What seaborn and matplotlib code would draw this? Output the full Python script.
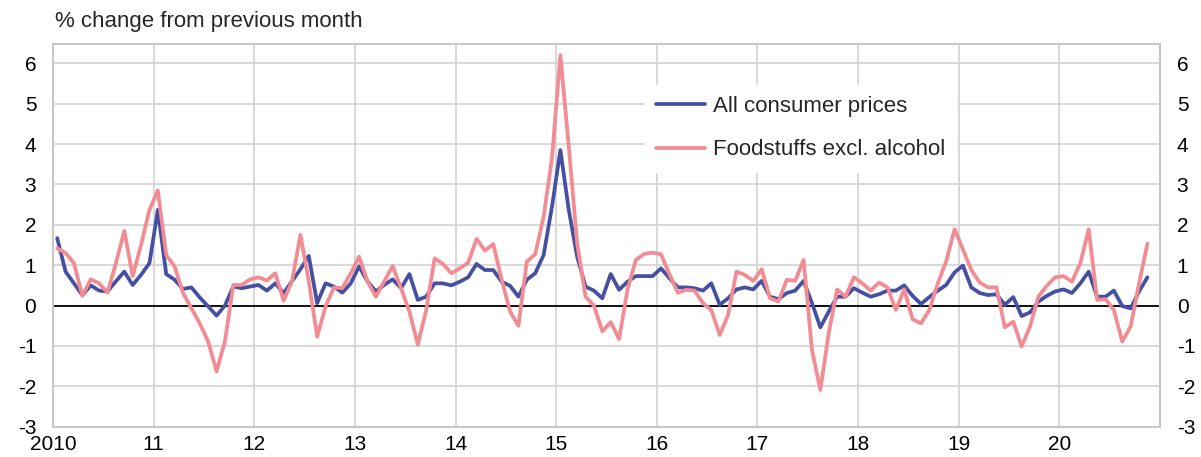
import numpy as np
import pandas as pd
import matplotlib
matplotlib.use("Agg")
import matplotlib.pyplot as plt
import seaborn as sns

# monthly % change, Jan 2010 - Nov 2020
all_prices = [
    1.67, 0.84, 0.55, 0.26, 0.50, 0.37, 0.35, 0.60, 0.84, 0.51, 0.76, 1.05,
    2.37, 0.78, 0.64, 0.41, 0.45, 0.20, -0.02, -0.25, 0.00, 0.47, 0.43, 0.47,
    0.51, 0.37, 0.55, 0.31, 0.60, 0.90, 1.23, 0.06, 0.55, 0.47, 0.32, 0.55,
    0.97, 0.60, 0.35, 0.51, 0.65, 0.43, 0.78, 0.14, 0.22, 0.55, 0.55, 0.50,
    0.59, 0.70, 1.03, 0.88, 0.88, 0.59, 0.49, 0.22, 0.64, 0.80, 1.25, 2.45,
    3.85, 2.37, 1.21, 0.47, 0.37, 0.18, 0.78, 0.39, 0.59, 0.73, 0.73, 0.73,
    0.92, 0.68, 0.45, 0.45, 0.43, 0.37, 0.55, 0.02, 0.18, 0.40, 0.45, 0.40,
    0.61, 0.22, 0.16, 0.31, 0.37, 0.61, 0.06, -0.54, -0.15, 0.22, 0.22, 0.43,
    0.32, 0.22, 0.28, 0.37, 0.37, 0.50, 0.24, 0.04, 0.21, 0.37, 0.51, 0.82,
    0.99, 0.45, 0.31, 0.26, 0.28, 0.02, 0.21, -0.26, -0.17, 0.10, 0.24, 0.35,
    0.40, 0.31, 0.55, 0.84, 0.22, 0.22, 0.37, -0.01, -0.07, 0.35, 0.70,
]
food = [
    1.42, 1.30, 1.05, 0.24, 0.65, 0.55, 0.32, 1.05, 1.85, 0.73, 1.50, 2.37,
    2.85, 1.25, 0.97, 0.31, -0.07, -0.44, -0.89, -1.63, -0.89, 0.51, 0.51, 0.65,
    0.70, 0.62, 0.80, 0.12, 0.60, 1.75, 0.60, -0.77, -0.02, 0.45, 0.43, 0.80,
    1.21, 0.60, 0.22, 0.60, 0.98, 0.43, -0.15, -0.97, -0.11, 1.17, 1.03, 0.80,
    0.92, 1.06, 1.65, 1.36, 1.52, 0.64, -0.15, -0.50, 1.09, 1.27, 2.20, 3.65,
    6.20, 3.94, 1.54, 0.22, 0.00, -0.64, -0.41, -0.83, 0.39, 1.13, 1.28, 1.31,
    1.27, 0.78, 0.32, 0.39, 0.37, 0.06, -0.11, -0.73, -0.23, 0.84, 0.76, 0.61,
    0.90, 0.18, 0.10, 0.64, 0.61, 1.13, -1.10, -2.09, -0.68, 0.40, 0.22, 0.70,
    0.55, 0.37, 0.57, 0.45, -0.11, 0.40, -0.34, -0.44, -0.11, 0.55, 1.09, 1.89,
    1.39, 0.88, 0.57, 0.45, 0.45, -0.54, -0.40, -1.01, -0.52, 0.22, 0.49, 0.70,
    0.73, 0.59, 1.05, 1.89, 0.14, 0.16, -0.11, -0.89, -0.52, 0.55, 1.53,
]
year_labels = ["2010", "11", "12", "13", "14", "15", "16", "17", "18", "19", "20"]

n = len(all_prices)
t = 2010 + (np.arange(n) + 0.5) / 12
df = pd.DataFrame({"t": t, "All consumer prices": all_prices,
                   "Foodstuffs excl. alcohol": food})

sns.set_style("whitegrid")
plt.rcParams["font.family"] = ["Liberation Sans", "DejaVu Sans"]
plt.rcParams["axes.unicode_minus"] = False

fig = plt.figure(figsize=(12.01, 4.57), dpi=100)
ax = fig.add_axes([53 / 1201, 1 - 426.7 / 457, (1160 - 53) / 1201, (426.7 - 44.3) / 457])

sns.lineplot(data=df, x="t", y="All consumer prices", ax=ax, color="#4550a3",
             lw=2.7, label="All consumer prices")
sns.lineplot(data=df, x="t", y="Foodstuffs excl. alcohol", ax=ax, color="#f28b92",
             lw=2.7, label="Foodstuffs excl. alcohol")

ax.axhline(0, color="black", lw=1.3, zorder=1.5)
ax.set_xlim(2010, 2021)
ax.set_ylim(-3, 6.47)
ax.set_xticks(np.arange(2010, 2021))
ax.set_xticklabels(year_labels)
ax.set_yticks(range(-3, 7))
ax.grid(True, color="#d6d6d6", lw=1.3)
for s in ax.spines.values():
    s.set_color("#c8c8c8")
    s.set_linewidth(1.5)
ax.set_xlabel("")
ax.set_ylabel("")
ax.tick_params(axis="both", length=0, labelsize=15, colors="black")
ax.tick_params(axis="y", labelright=True, pad=12)
ax.tick_params(axis="x", pad=6)

fig.text(55 / 1201, 1 - 22 / 457, "% change from previous month", fontsize=16,
         va="center", ha="left")

leg = ax.legend(loc="upper left", bbox_to_anchor=(634 / 1201, 1 - 74 / 457),
                bbox_transform=fig.transFigure, frameon=True, fancybox=False,
                fontsize=16, handlelength=2.2, handletextpad=0.35,
                labelspacing=1.0, borderpad=0.5)
leg.get_frame().set_facecolor("white")
leg.get_frame().set_edgecolor("white")
leg.get_frame().set_alpha(1)

fig.savefig("out.png", dpi=100)
